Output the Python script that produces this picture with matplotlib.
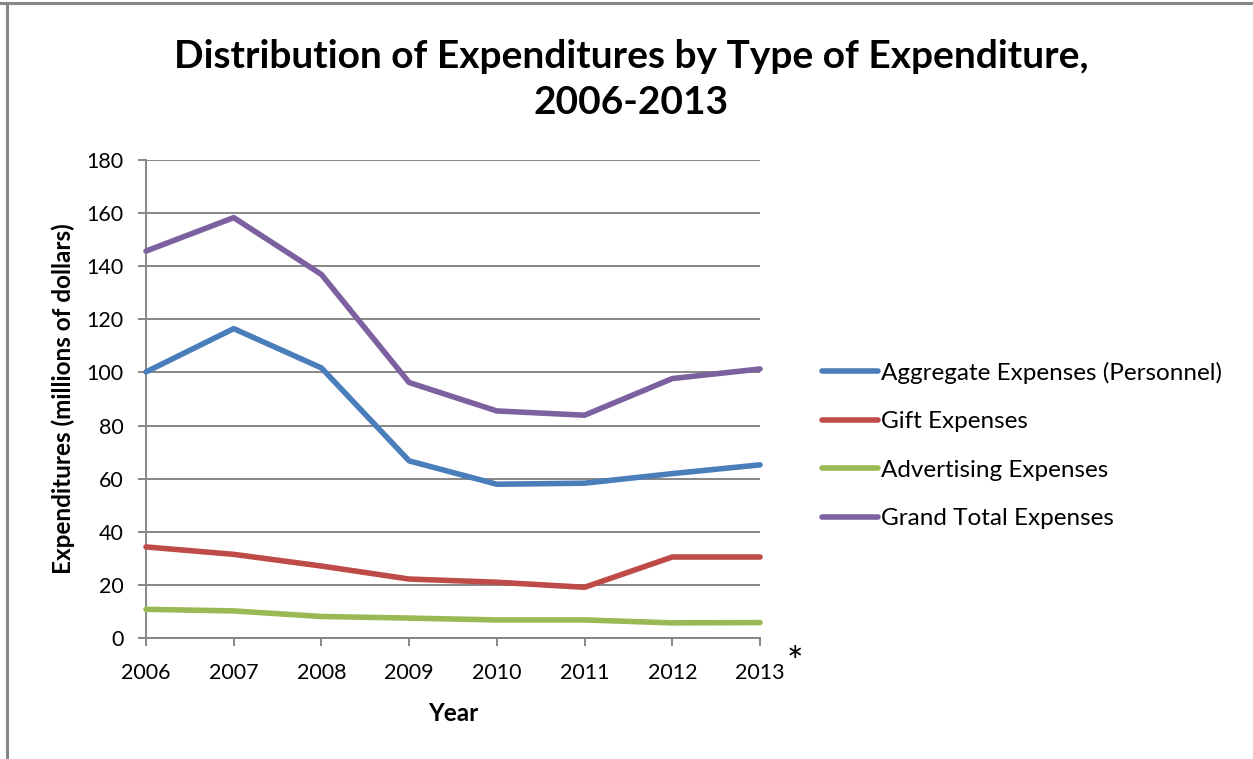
import matplotlib
matplotlib.use("Agg")
import matplotlib.pyplot as plt
from matplotlib.lines import Line2D

# data (millions of dollars)
years = [2006, 2007, 2008, 2009, 2010, 2011, 2012, 2013]
aggregate = [100.2, 116.5, 101.7, 66.7, 57.9, 58.3, 61.9, 65.2]
gift = [34.3, 31.5, 27.1, 22.2, 21.0, 19.1, 30.5, 30.5]
advertising = [10.8, 10.2, 8.1, 7.5, 6.8, 6.8, 5.7, 5.8]
grand_total = [145.7, 158.3, 136.9, 96.2, 85.5, 83.9, 97.7, 101.3]

series_names = ["Aggregate Expenses (Personnel)", "Gift Expenses",
                "Advertising Expenses", "Grand Total Expenses"]
series_colors = ["#4a7ebb", "#be4b48", "#98b954", "#7d60a0"]
yticks = list(range(0, 181, 20))

plt.rcParams["font.family"] = ["Lato", "DejaVu Sans"]

fig = plt.figure(figsize=(12.53, 7.59), dpi=100)
ax = fig.add_axes([146 / 1253, 1 - 638 / 759, (760 - 146) / 1253, (638 - 160) / 759])

for vals, name, col in zip([aggregate, gift, advertising, grand_total], series_names, series_colors):
    ax.plot(years, vals, color=col, lw=4, solid_capstyle="round", solid_joinstyle="round",
            label=name, zorder=3, clip_on=False)

ax.set_xlim(years[0], years[-1])
ax.set_ylim(0, 180)
ax.set_xticks(years)
ax.set_yticks(yticks)
ax.set_xticklabels([str(y) for y in years], fontsize=15.5)
ax.set_yticklabels([str(v) for v in yticks], fontsize=15.5)
ax.grid(axis="y", color="#868686", lw=1.4, zorder=1)
for side in ["top", "right"]:
    ax.spines[side].set_visible(False)
for side in ["left", "bottom"]:
    ax.spines[side].set_color("#868686")
    ax.spines[side].set_linewidth(1.4)
ax.tick_params(axis="both", color="#868686", width=1.4, length=6, direction="out")
ax.tick_params(axis="x", pad=12)
ax.tick_params(axis="y", pad=10)

ax.set_xlabel("Year", fontsize=17.5, fontweight="bold", labelpad=14)
ax.set_ylabel("Expenditures (millions of dollars)", fontsize=17.5, fontweight="bold", labelpad=8)

fig.text(795 / 1253, 1 - 664 / 759, "*", fontsize=28, ha="center", va="center")

fig.text(631 / 1253, 1 - 57 / 759, "Distribution of Expenditures by Type of Expenditure,",
         fontsize=28, fontweight="bold", ha="center", va="center")
fig.text(631 / 1253, 1 - 103 / 759, "2006-2013",
         fontsize=28, fontweight="bold", ha="center", va="center")

handles = [Line2D([], [], color=c, lw=4, solid_capstyle="round") for c in series_colors]
fig.legend(handles, series_names, loc="upper left", bbox_to_anchor=(812 / 1253, 1 - 352 / 759),
           frameon=False, fontsize=17.5, handlelength=2.3, handletextpad=0.15,
           labelspacing=1.13, borderaxespad=0)

# outer frame of the chart box
fig.add_artist(Line2D([0, 1], [1 - 3 / 759] * 2, color="#868686", lw=2.2, transform=fig.transFigure))
fig.add_artist(Line2D([7 / 1253] * 2, [0, 1 - 3 / 759], color="#868686", lw=2.2, transform=fig.transFigure))

fig.savefig("out.png", dpi=100)
